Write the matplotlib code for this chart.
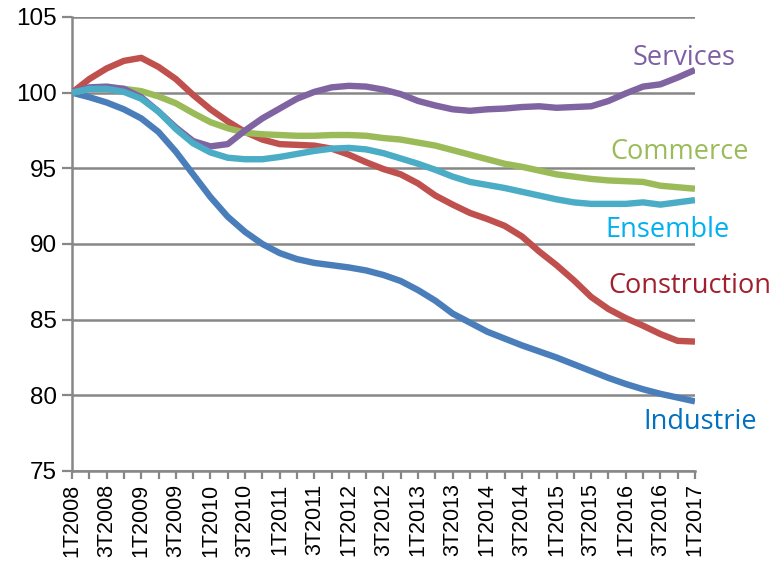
import matplotlib
matplotlib.use("Agg")
import matplotlib.pyplot as plt
import numpy as np

# trimestres 1T2008 .. 1T2017
quarters = []
for year in range(2008, 2018):
    for q in range(1, 5):
        quarters.append(f"{q}T{year}")
quarters = quarters[:37]

industrie = [100.0, 99.7, 99.35, 98.9, 98.3, 97.4, 96.1, 94.6, 93.1, 91.8,
             90.8, 90.0, 89.4, 89.0, 88.75, 88.6, 88.45, 88.25, 87.95, 87.55,
             86.95, 86.25, 85.4, 84.8, 84.2, 83.75, 83.3, 82.9, 82.5, 82.05,
             81.6, 81.15, 80.75, 80.4, 80.1, 79.85, 79.6]
construction = [100.0, 100.9, 101.6, 102.1, 102.3, 101.7, 100.9, 99.85, 98.9, 98.1,
                97.4, 96.9, 96.6, 96.55, 96.5, 96.3, 95.9, 95.4, 94.95, 94.6,
                94.0, 93.2, 92.6, 92.05, 91.65, 91.2, 90.5, 89.5, 88.6, 87.6,
                86.5, 85.7, 85.1, 84.6, 84.05, 83.6, 83.55]
commerce = [100.0, 100.25, 100.3, 100.25, 100.1, 99.75, 99.3, 98.65, 98.05, 97.65,
            97.35, 97.25, 97.2, 97.15, 97.15, 97.2, 97.2, 97.15, 97.0, 96.9,
            96.7, 96.5, 96.2, 95.9, 95.6, 95.3, 95.1, 94.85, 94.6, 94.45,
            94.3, 94.2, 94.15, 94.1, 93.85, 93.75, 93.65]
services = [100.0, 100.35, 100.4, 100.25, 99.7, 98.75, 97.7, 96.8, 96.45, 96.6,
            97.5, 98.3, 98.95, 99.6, 100.05, 100.35, 100.45, 100.4, 100.2, 99.9,
            99.45, 99.15, 98.9, 98.8, 98.9, 98.95, 99.05, 99.1, 99.0, 99.05,
            99.1, 99.45, 99.95, 100.4, 100.55, 101.0, 101.5]
ensemble = [100.0, 100.25, 100.25, 100.05, 99.6, 98.75, 97.6, 96.65, 96.05, 95.7,
            95.6, 95.6, 95.75, 95.95, 96.15, 96.3, 96.35, 96.25, 96.0, 95.65,
            95.3, 94.9, 94.45, 94.1, 93.9, 93.7, 93.45, 93.2, 92.95, 92.75,
            92.65, 92.65, 92.65, 92.75, 92.6, 92.75, 92.9]

GRID = '#878787'

fig = plt.figure(figsize=(7.76, 5.72), dpi=100)
ax = fig.add_axes([0.0928, 0.1766, 0.8028, 0.7937])

x = np.arange(len(quarters))
series = [
    (industrie, '#4A7EBB', 'Industrie', '#0070C0', 36.3, 78.25),
    (construction, '#C0504D', 'Construction', '#A0202D', 35.7, 87.2),
    (commerce, '#9BBB59', 'Commerce', '#9BBB59', 35.1, 96.1),
    (services, '#8064A2', 'Services', '#7E5FA5', 35.4, 102.3),
    (ensemble, '#4BACC6', 'Ensemble', '#00B0F0', 34.4, 90.95),
]
for i, (vals, col, lab, lcol, tx, ty) in enumerate(series):
    ax.plot(x, vals, color=col, lw=4.6, solid_joinstyle='round',
            solid_capstyle='butt', zorder=3 + i)
    ax.text(tx, ty, lab, color=lcol, fontsize=19.5, family=['Open Sans', 'DejaVu Sans'],
            ha='center', va='center', clip_on=False, zorder=10)

ax.set_xlim(0, 36)
ax.set_ylim(75, 105)
ax.set_yticks(range(75, 106, 5))
ax.set_xticks(x, minor=True)
ax.set_xticks(x[::2])
ax.set_xticklabels(quarters[::2], rotation=90)
ax.tick_params(axis='x', which='both', length=6, width=1.6, color=GRID,
               labelsize=15.5, pad=3)
ax.tick_params(axis='y', length=7, width=1.6, color=GRID, labelsize=17.5, pad=4)
for lbl in ax.get_xticklabels() + ax.get_yticklabels():
    lbl.set_family('Liberation Sans')

ax.grid(axis='y', color=GRID, lw=1.8)
ax.set_axisbelow(True)
for s in ['top', 'right']:
    ax.spines[s].set_visible(False)
for s in ['left', 'bottom']:
    ax.spines[s].set_color(GRID)
    ax.spines[s].set_linewidth(1.8)

fig.savefig('out.png', dpi=100, facecolor='white')
